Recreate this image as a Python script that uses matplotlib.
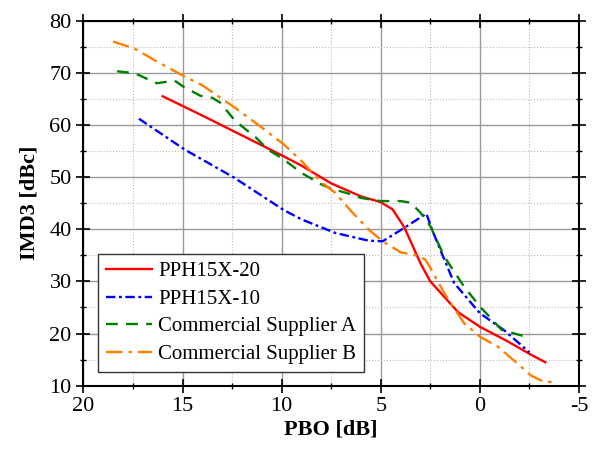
import numpy as np
import matplotlib.pyplot as plt
from matplotlib.ticker import MultipleLocator

plt.rcParams['font.family'] = ['Liberation Serif', 'DejaVu Serif']
plt.rcParams['axes.unicode_minus'] = False

# PPH15X-20
x_20 = [16.0, 14.0, 12.0, 9.9, 9.0, 7.5, 6.0, 5.0, 4.4, 3.8, 3.0, 2.5, 1.1, 0.0, -1.4, -2.6, -3.3]
y_20 = [65.5, 61.8, 58.0, 54.0, 52.2, 48.8, 46.3, 45.2, 43.8, 40.3, 33.5, 30.0, 24.1, 21.3, 18.5, 15.9, 14.5]

# PPH15X-10
x_10 = [17.2, 14.9, 12.4, 9.9, 9.0, 7.3, 5.6, 4.9, 3.8, 2.7, 2.4, 2.0, 1.3, 0.0, -1.2, -2.5]
y_10 = [61.2, 55.3, 49.9, 43.7, 41.9, 39.3, 37.8, 37.7, 40.3, 43.0, 39.8, 36.1, 29.7, 23.9, 20.7, 16.4]

# Commercial Supplier A
x_a = [18.3, 17.4, 16.3, 15.4, 14.9, 14.1, 13.5, 13.1, 12.35, 11.3, 10.7, 9.9, 9.0, 8.0, 7.5,
       6.5, 6.0, 5.0, 4.0, 3.5, 3.0, 2.5, 1.8, 0.8, 0.0, -1.1, -2.5]
y_a = [70.3, 69.9, 68.0, 68.5, 67.2, 65.6, 65.2, 64.3, 60.8, 57.6, 55.3, 53.4, 50.8, 48.6, 47.8,
       46.7, 46.0, 45.4, 45.4, 45.1, 43.2, 40.6, 34.8, 29.0, 25.2, 20.7, 19.2]

# Commercial Supplier B
x_b = [18.5, 17.4, 16.4, 14.9, 14.0, 12.35, 11.0, 9.9, 9.0, 8.0, 7.3, 6.5, 5.6, 4.9, 4.0,
       3.25, 2.75, 2.5, 1.8, 0.8, 0.0, -0.9, -1.7, -2.6, -3.2, -3.9]
y_b = [76.0, 74.6, 72.4, 69.3, 67.6, 63.3, 59.5, 56.3, 53.1, 49.0, 47.0, 43.5, 39.9, 37.7, 35.6,
       35.0, 34.2, 32.6, 27.8, 22.0, 19.4, 17.5, 14.9, 11.9, 10.8, 10.65]

fig = plt.figure(figsize=(6, 4.49), dpi=100)
ax = fig.add_axes([0.139, 0.141, 0.826, 0.813])

ax.plot(x_20, y_20, color='#ff0000', lw=1.7, ls='-', label='PPH15X-20')
ax.plot(x_10, y_10, color='#0000ff', lw=1.7, ls=(0, (4, 1.5, 1.2, 1.5)), label='PPH15X-10')
ax.plot(x_a, y_a, color='#008000', lw=1.7, ls=(0, (5, 3.5)), label='Commercial Supplier A')
ax.plot(x_b, y_b, color='#ff8000', lw=1.7, ls=(0, (7, 2.5, 1.5, 2.5)), label='Commercial Supplier B')

ax.set_xlim(20, -5)
ax.set_ylim(10, 80)
ax.xaxis.set_major_locator(MultipleLocator(5))
ax.xaxis.set_minor_locator(MultipleLocator(2.5))
ax.yaxis.set_major_locator(MultipleLocator(10))
ax.yaxis.set_minor_locator(MultipleLocator(5))

ax.grid(which='major', color='#999999', lw=1.0, ls='-')
ax.grid(which='minor', color='#bbbbbb', lw=0.8, ls=':')
ax.set_axisbelow(True)

ax.tick_params(which='major', direction='inout', length=10, width=1.2,
               top=True, right=True, labelsize=16)
ax.tick_params(which='minor', direction='inout', length=5, width=1.0,
               top=True, right=True)
for s in ax.spines.values():
    s.set_linewidth(1.5)

ax.set_xlabel('PBO [dB]', fontsize=16, fontweight='bold', labelpad=2)
ax.set_ylabel('IMD3 [dBc]', fontsize=16, fontweight='bold', labelpad=7)

leg = ax.legend(loc='lower left', bbox_to_anchor=(0.03, 0.038), borderaxespad=0,
                fontsize=15, fancybox=False, framealpha=1, edgecolor='#333333',
                handlelength=2.2, handletextpad=0.3, labelspacing=0.38, borderpad=0.38)
leg.get_frame().set_linewidth(1.0)

plt.savefig('out.png', dpi=100)
